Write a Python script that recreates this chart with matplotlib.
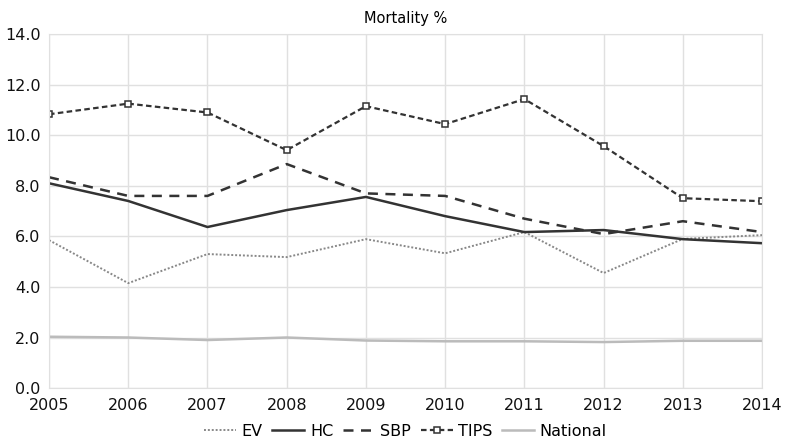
import matplotlib.pyplot as plt
import numpy as np

years = [2005, 2006, 2007, 2008, 2009, 2010, 2011, 2012, 2013, 2014]
ev = [5.85, 4.15, 5.3, 5.18, 5.89, 5.33, 6.17, 4.55, 5.9, 6.05]
hc = [8.1, 7.4, 6.37, 7.04, 7.56, 6.8, 6.17, 6.25, 5.89, 5.73]
sbp = [8.34, 7.6, 7.6, 8.86, 7.7, 7.6, 6.7, 6.09, 6.6, 6.17]
tips = [10.83, 11.25, 10.9, 9.41, 11.15, 10.44, 11.43, 9.57, 7.51, 7.39]
national = [2.03, 2.0, 1.9, 2.0, 1.88, 1.85, 1.85, 1.82, 1.87, 1.87]

plt.rcParams['font.family'] = ['DejaVu Sans']

fig = plt.figure(figsize=(7.87, 4.43), dpi=100)
ax = fig.add_axes([0.0623, 0.124, 0.906, 0.799])

ax.plot(years, ev, color='#888888', linestyle=(0, (1, 1)), linewidth=1.4, label='EV')
ax.plot(years, hc, color='#333333', linestyle='-', linewidth=1.8, label='HC')
ax.plot(years, sbp, color='#333333', linestyle=(0, (4, 3)), linewidth=1.8, label='SBP')
ax.plot(years, tips, color='#333333', linestyle=(0, (2.5, 1.5)), linewidth=1.6,
        marker='s', markersize=5, markerfacecolor='white', markeredgecolor='#333333',
        markeredgewidth=1.1, label='TIPS')
ax.plot(years, national, color='#bbbbbb', linestyle='-', linewidth=1.8, label='National')

ax.set_xlim(2005, 2014)
ax.set_ylim(0, 14)
ax.set_xticks(years)
ax.set_yticks(np.arange(0, 14.1, 2))
ax.set_yticklabels(['%.1f' % v for v in np.arange(0, 14.1, 2)])
ax.grid(True, color='#e0e0e0', linewidth=1)
ax.set_axisbelow(True)
for s in ax.spines.values():
    s.set_color('#e0e0e0')
ax.tick_params(length=0, labelsize=11.5, colors='#111111')
ax.tick_params(axis='x', pad=7)
ax.tick_params(axis='y', pad=6)

ax.set_title('Mortality %', fontsize=10.5, pad=8)

ax.legend(loc='upper center', bbox_to_anchor=(0.5, -0.06), ncol=5, frameon=False,
          fontsize=11.5, handlelength=2.0, handletextpad=0.35, columnspacing=0.6)

plt.savefig('out.png')
